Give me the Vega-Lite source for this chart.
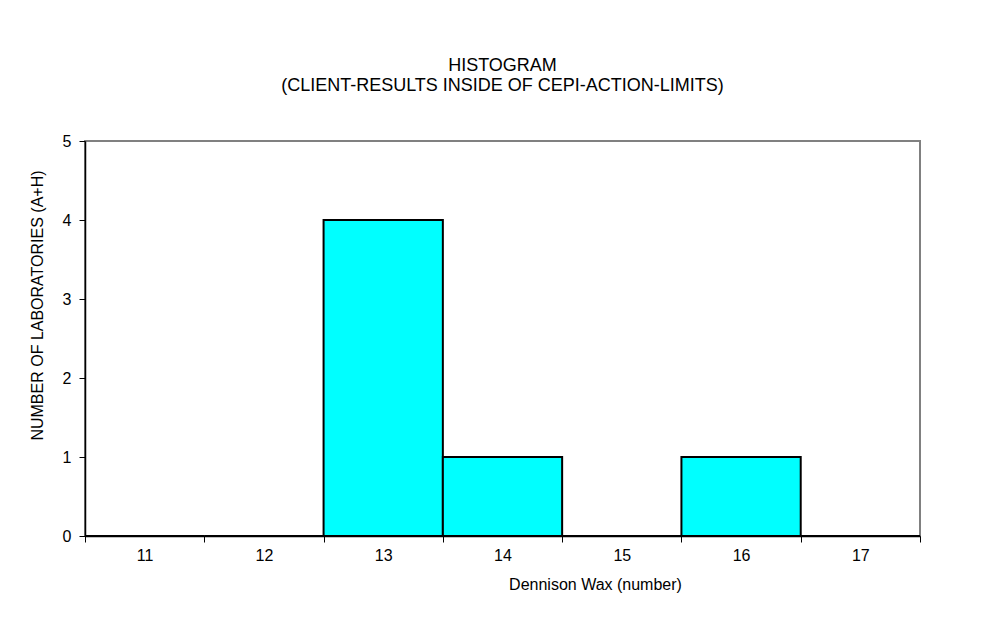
{
  "$schema": "https://vega.github.io/schema/vega-lite/v6.json",
  "width": 835,
  "height": 395,
  "autosize": {"type": "none"},
  "padding": {"left": 85, "top": 141, "right": 77, "bottom": 96},
  "background": "white",
  "title": {
    "text": ["HISTOGRAM", "(CLIENT-RESULTS INSIDE OF CEPI-ACTION-LIMITS)"],
    "font": "Liberation Sans",
    "fontSize": 18,
    "fontWeight": "normal",
    "color": "black",
    "anchor": "middle",
    "lineHeight": 20,
    "offset": 38
  },
  "config": {
    "view": {"stroke": "#808080", "strokeWidth": 2},
    "axis": {
      "labelFont": "Liberation Sans",
      "titleFont": "Liberation Sans",
      "labelColor": "black",
      "titleColor": "black",
      "domainColor": "black",
      "tickColor": "black",
      "grid": false,
      "titleFontWeight": "normal"
    }
  },
  "data": {
    "values": [
      {"bin": "11", "count": 0},
      {"bin": "12", "count": 0},
      {"bin": "13", "count": 4},
      {"bin": "14", "count": 1},
      {"bin": "15", "count": 0},
      {"bin": "16", "count": 1},
      {"bin": "17", "count": 0}
    ]
  },
  "mark": {"type": "bar", "fill": "#00FFFF", "stroke": "black", "strokeWidth": 2, "opacity": 1},
  "encoding": {
    "x": {
      "field": "bin",
      "type": "ordinal",
      "sort": null,
      "scale": {"paddingInner": 0, "paddingOuter": 0},
      "axis": {
        "title": "Dennison Wax (number)",
        "titleFontSize": 16,
        "titlePadding": 13,
        "titleX": 510,
        "titleAnchor": "middle",
        "titleAlign": "center",
        "labelFontSize": 16,
        "labelAngle": 0,
        "labelPadding": 5,
        "tickBand": "extent",
        "tickSize": 6,
        "domainWidth": 1.5
      }
    },
    "y": {
      "field": "count",
      "type": "quantitative",
      "scale": {"domain": [0, 5], "nice": false},
      "axis": {
        "title": "NUMBER OF LABORATORIES (A+H)",
        "titleFontSize": 16,
        "titlePadding": 17,
        "titleY": 164,
        "titleAnchor": "middle",
        "labelFontSize": 16,
        "values": [0, 1, 2, 3, 4, 5],
        "labelOverlap": false,
        "tickSize": 6,
        "labelPadding": 8,
        "domainWidth": 1.5
      }
    }
  }
}
